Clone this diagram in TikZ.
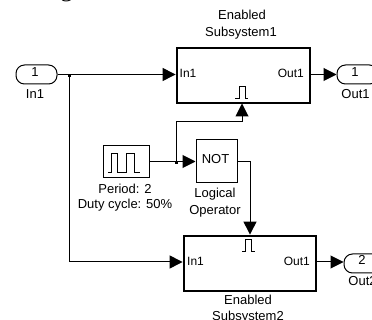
\documentclass[tikz,border=0pt]{standalone}
\usepackage{fontspec}
\setmainfont{Liberation Sans}
\newfontfamily\serifg{Liberation Serif}
\usetikzlibrary{arrows.meta}
\usetikzlibrary{calc}

\begin{document}
\begin{tikzpicture}[x=1pt, y=-1pt, >={Triangle[length=13pt,width=13pt]},
label/.style={font=\fontsize{13}{13}\selectfont, inner sep=0pt},
inner/.style={font=\fontsize{12}{12}\selectfont, inner sep=0pt},
port/.style={draw, line width=1pt, rounded corners=8.5pt, inner sep=0pt, minimum width=41pt, minimum height=19pt},
subsys/.style={draw, line width=2.8pt, inner sep=0pt},
simple/.style={draw, line width=1pt, inner sep=0pt},
junction/.style={fill=black, inner sep=0pt, minimum size=3.5pt},
signal/.style={line width=1pt},
pulse/.style={line width=.9pt}]

%%%%%% SETTINGS %%%%%%%%%%

\useasboundingbox (0,0) rectangle (372,320);
\clip (0,0) rectangle (372,320);

\node [font=\serifg\fontsize{25}{25}\selectfont, anchor=base, inner sep=0pt] (clipped) at (66.5,-3.5) {g};

%%%%%% BLOCKS %%%%%%%%%%

\node [port] (in1) at (36.5,74.5) {};
\node [label] (in1num) at (35,72) {1};
\node [label] (in1text) at (35,94) {In1};

\node [subsys, minimum width=133pt, minimum height=55pt] (sub1) at (243.5,75.5) {};
\node [label] (sub1name) at (242,15) {Enabled};
\node [label] (sub1nameb) at (241,33) {Subsystem1};
\node [inner, anchor=west] (sub1in) at (179.5,73) {In1};
\node [inner, anchor=east] (sub1out) at (304,73) {Out1};

\node [port] (out1) at (357.5,74.5) {};
\node [label] (out1num) at (355,72) {1};
\node [label] (out1text) at (355.5,94) {Out1};

\node [simple, minimum width=46pt, minimum height=32pt] (gen) at (126,161.5) {};
\node [label] (gentext) at (125,189) {Period: 2};
\node [label] (gentextb) at (125,205) {Duty cycle: 50\%};

\node [simple, minimum width=41pt, minimum height=43pt] (not) at (216.5,161.5) {};
\node [label] (nottop) at (215.5,159) {NOT};
\node [label] (nottext) at (215,194) {Logical};
\node [label] (nottextb) at (215,211) {Operator};

\node [subsys, minimum width=132pt, minimum height=55pt] (sub2) at (250,263.5) {};
\node [label] (sub2name) at (248,300) {Enabled};
\node [label] (sub2nameb) at (248,317) {Subsystem2};
\node [inner, anchor=west] (sub2in) at (187,261) {In1};
\node [inner, anchor=east] (sub2out) at (310,261) {Out1};

\node [port] (out2) at (364.5,263.5) {};
\node [label] (out2num) at (362,260) {2};
\node [label] (out2text) at (362.5,281) {Out2};

%%%%%% PULSES %%%%%%%%%%

\draw [pulse] (108,172) -- (111,172) -- (111,153) -- (117,153) -- (117,172) -- (126,172) -- (126,153) -- (134,153) -- (134,172) -- (140,172);
\draw [pulse] (235,98) -- (239,98) -- (239,86) -- (245,86) -- (245,98) -- (248,98);
\draw [pulse] (242,251) -- (245,251) -- (245,239) -- (251,239) -- (251,251) -- (255,251);

%%%%%% SIGNALS %%%%%%%%%%

\node [junction] (dot1) at (69.5,75.5) {};
\node [junction] (dot2) at (176.5,162.5) {};
\coordinate (bend) at (242,122);
\coordinate (enable1) at (242,103.5);
\coordinate (sub2port) at (sub2.west |- 0,262);

\draw [signal, ->] (in1.east) -- (in1.east -| sub1.west);
\draw [signal, ->] (dot1) |- (sub2port);
\draw [signal, ->] (gen.east) -- (not.west);
\draw [signal, ->] (dot2) |- (bend) -- (enable1);
\draw [signal, ->] (not.east) -| (sub2.north);
\draw [signal, ->] (sub1.east |- out1.west) -- (out1.west);
\draw [signal, ->] (sub2.east |- sub2port) -- (out2.west |- sub2port);

\end{tikzpicture}
\end{document}
